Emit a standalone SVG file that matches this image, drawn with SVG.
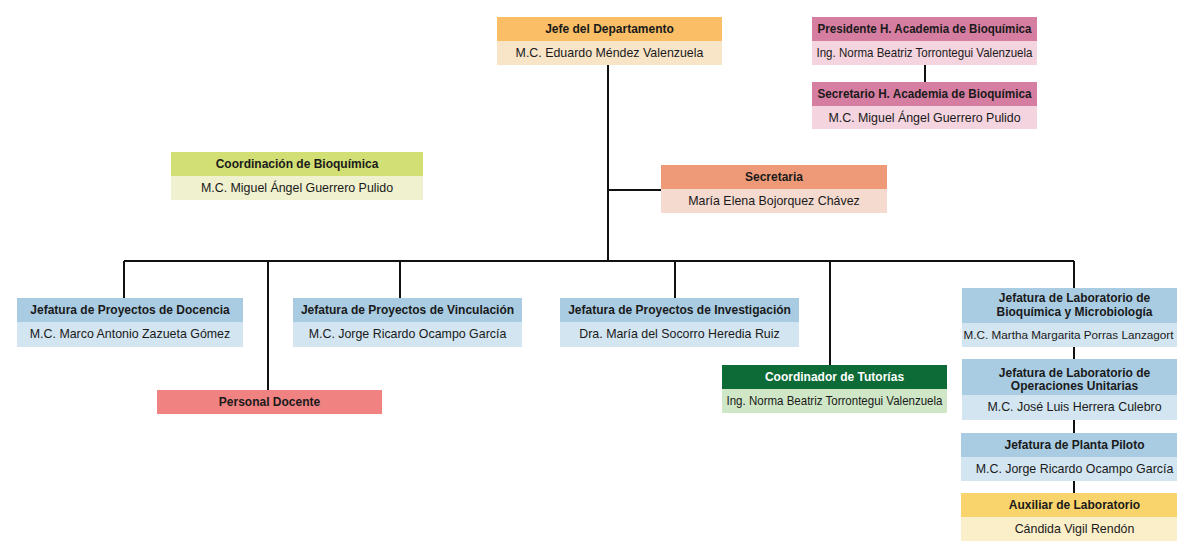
<svg xmlns="http://www.w3.org/2000/svg" width="1177" height="541" viewBox="0 0 1177 541">
<style>
text{font-family:"Liberation Sans",Arial,sans-serif;font-size:12.4px;fill:#1a1a1a;text-anchor:middle}
.t{font-weight:bold;font-size:12px}
.w{fill:#ffffff}
.ln{stroke:#111;stroke-width:2;fill:none}
.hOr{fill:#F9BE66}.bOr{fill:#F8E5C8}
.hPk{fill:#D67EA1}.bPk{fill:#F4D4DF}
.hLm{fill:#D2DF74}.bLm{fill:#EFF1CF}
.hSa{fill:#EE9A78}.bSa{fill:#F5DAD0}
.hBl{fill:#A9CCE3}.bBl{fill:#D3E5F1}
.hRd{fill:#F08282}
.hGr{fill:#0C6B36}.bGr{fill:#CFE7C7}
.hYe{fill:#F9D46C}.bYe{fill:#FBEFC9}
</style>
<rect width="1177" height="541" fill="#ffffff"/>
<g id="connectors" class="ln">
<path d="M608 65V261"/>
<path d="M608 190H661"/>
<path d="M124 261H1074"/>
<path d="M124 261V298"/>
<path d="M268 261V390"/>
<path d="M400 261V298"/>
<path d="M675 261V298"/>
<path d="M830 261V365"/>
<path d="M1074 261V288"/>
<path d="M925 65V82"/>
<path d="M1074 347V359"/>
<path d="M1074 420V433"/>
<path d="M1074 481V493"/>
</g>
<g id="jefe">
<rect class="hOr" x="497" y="17" width="225" height="24"/>
<rect class="bOr" x="497" y="41" width="225" height="24"/>
<text class="t" x="609.5" y="33">Jefe del Departamento</text>
<text x="609.5" y="56.5">M.C. Eduardo Méndez Valenzuela</text>
</g>
<g id="presidente">
<rect class="hPk" x="812" y="17" width="225" height="24"/>
<rect class="bPk" x="812" y="41" width="225" height="24"/>
<text class="t" x="924.5" y="33" textLength="214" lengthAdjust="spacingAndGlyphs">Presidente H. Academia de Bioquímica</text>
<text x="924.5" y="56.5" textLength="216" lengthAdjust="spacingAndGlyphs">Ing. Norma Beatriz Torrontegui Valenzuela</text>
</g>
<g id="secretario">
<rect class="hPk" x="812" y="82" width="225" height="24"/>
<rect class="bPk" x="812" y="106" width="225" height="23"/>
<text class="t" x="924.5" y="98" textLength="214" lengthAdjust="spacingAndGlyphs">Secretario H. Academia de Bioquímica</text>
<text x="924.5" y="121.5">M.C. Miguel Ángel Guerrero Pulido</text>
</g>
<g id="coordinacion">
<rect class="hLm" x="171" y="152" width="252" height="24"/>
<rect class="bLm" x="171" y="176" width="252" height="24"/>
<text class="t" x="297" y="168">Coordinación de Bioquímica</text>
<text x="297" y="191.5">M.C. Miguel Ángel Guerrero Pulido</text>
</g>
<g id="secretaria">
<rect class="hSa" x="661" y="165" width="226" height="24"/>
<rect class="bSa" x="661" y="189" width="226" height="24"/>
<text class="t" x="774" y="181">Secretaria</text>
<text x="774" y="204.5">María Elena Bojorquez Chávez</text>
</g>
<g id="docencia">
<rect class="hBl" x="17" y="298" width="226" height="24"/>
<rect class="bBl" x="17" y="322" width="226" height="25"/>
<text class="t" x="130" y="314">Jefatura de Proyectos de Docencia</text>
<text x="130" y="338">M.C. Marco Antonio Zazueta Gómez</text>
</g>
<g id="vinculacion">
<rect class="hBl" x="293" y="298" width="229" height="24"/>
<rect class="bBl" x="293" y="322" width="229" height="25"/>
<text class="t" x="407.5" y="314">Jefatura de Proyectos de Vinculación</text>
<text x="407.5" y="338">M.C. Jorge Ricardo Ocampo García</text>
</g>
<g id="investigacion">
<rect class="hBl" x="560" y="298" width="239" height="24"/>
<rect class="bBl" x="560" y="322" width="239" height="25"/>
<text class="t" x="679.5" y="314">Jefatura de Proyectos de Investigación</text>
<text x="679.5" y="338">Dra. María del Socorro Heredia Ruiz</text>
</g>
<g id="personal-docente">
<rect class="hRd" x="157" y="390" width="225" height="24"/>
<text class="t" x="269.5" y="406">Personal Docente</text>
</g>
<g id="tutorias">
<rect class="hGr" x="722" y="365" width="225" height="24"/>
<rect class="bGr" x="722" y="389" width="225" height="24"/>
<text class="t w" x="834.5" y="381">Coordinador de Tutorías</text>
<text x="834.5" y="404.5" textLength="216" lengthAdjust="spacingAndGlyphs">Ing. Norma Beatriz Torrontegui Valenzuela</text>
</g>
<g id="lab-bioquimica">
<rect class="hBl" x="962" y="288" width="215" height="35"/>
<rect class="bBl" x="962" y="323" width="215" height="24"/>
<text class="t" x="1074.5" y="301.5">Jefatura de Laboratorio de</text>
<text class="t" x="1074.5" y="315.5">Bioquímica y Microbiología</text>
<text x="1068.5" y="338.5" style="font-size:11.7px">M.C. Martha Margarita Porras Lanzagort</text>
</g>
<g id="lab-operaciones">
<rect class="hBl" x="962" y="359" width="215" height="36"/>
<rect class="bBl" x="962" y="395" width="215" height="25"/>
<text class="t" x="1074.5" y="376.5">Jefatura de Laboratorio de</text>
<text class="t" x="1074.5" y="389.5">Operaciones Unitarias</text>
<text x="1074.5" y="411">M.C. José Luis Herrera Culebro</text>
</g>
<g id="planta-piloto">
<rect class="hBl" x="961" y="433" width="216" height="24"/>
<rect class="bBl" x="961" y="457" width="216" height="24"/>
<text class="t" x="1074.5" y="449">Jefatura de Planta Piloto</text>
<text x="1074.5" y="472.5">M.C. Jorge Ricardo Ocampo García</text>
</g>
<g id="auxiliar">
<rect class="hYe" x="961" y="493" width="216" height="24"/>
<rect class="bYe" x="961" y="517" width="216" height="24"/>
<text class="t" x="1074.5" y="509">Auxiliar de Laboratorio</text>
<text x="1074.5" y="532.5">Cándida Vigil Rendón</text>
</g>
</svg>
